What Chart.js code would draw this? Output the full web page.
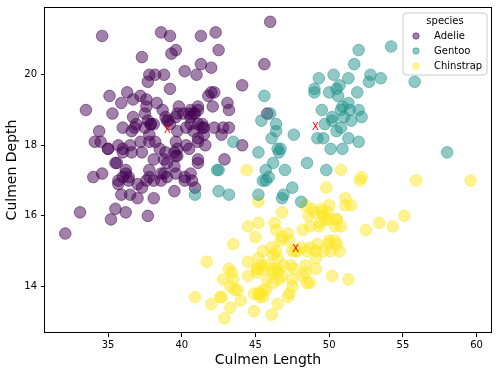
<!DOCTYPE html>
<html><head><meta charset="utf-8">
<script src="https://cdn.jsdelivr.net/npm/chart.js@4"></script>
<style>html,body{margin:0;padding:0;background:#fff}canvas{display:block}</style>
</head><body>
<canvas id="c" width="498" height="375"></canvas>
<script>
// ---- data ----
const seriesLabels = ['Adelie', 'Gentoo', 'Chinstrap'];
const seriesColors = ['rgba(68,1,84,0.5)', 'rgba(33,145,140,0.5)', 'rgba(253,231,37,0.5)'];

// purple series ("Adelie")
const adelieLength = [39.1,39.5,40.3,36.7,39.3,38.9,39.2,34.1,42.0,37.8,37.8,41.1,38.6,34.6,36.6,38.7,42.5,34.4,46.0,37.8,37.7,35.9,38.2,38.8,35.3,40.6,40.5,37.9,40.5,39.5,37.2,39.5,40.9,36.4,39.2,38.8,42.2,37.6,39.8,36.5,40.8,36.0,44.1,37.0,39.6,41.1,37.5,36.0,42.3,39.6,40.1,35.0,42.0,34.5,41.4,39.0,40.6,36.5,37.6,35.7,41.3,37.6,41.1,36.4,41.6,35.5,41.1,35.9,41.8,33.5,39.7,39.6,45.8,35.5,42.8,40.9,37.2,36.2,42.1,34.6,42.9,36.7,35.1,37.3,41.3,36.3,36.9,38.3,38.9,35.7,41.1,34.0,39.6,36.2,40.8,38.1,40.3,33.1,43.2,35.0,41.0,37.7,37.8,37.9,39.7,38.6,38.2,38.1,43.2,38.1,45.6,39.7,42.2,39.6,42.7,38.6,37.3,35.7,41.1,36.2,37.7,40.2,41.4,35.2,40.6,38.8,41.5,39.0,44.1,38.5,43.1,36.8,37.5,38.1,41.1,35.6,40.2,37.0,39.7,40.2,40.6,32.1,40.7,37.3,39.0,39.2,36.6,36.0,37.8,36.0,41.5];
const adelieDepth = [18.7,17.4,18.0,19.3,20.6,17.8,19.6,18.1,20.2,17.1,17.3,17.6,21.2,21.1,17.8,19.0,20.7,18.4,21.5,18.3,18.7,19.2,18.1,17.2,18.9,18.6,17.9,18.6,18.9,16.7,18.1,17.8,18.9,17.0,21.1,20.0,18.5,19.3,19.1,18.0,18.4,18.5,19.7,16.9,18.8,19.0,18.9,17.9,21.2,17.7,18.9,17.9,19.5,18.1,18.6,17.5,18.8,16.6,19.1,16.9,21.1,17.0,18.2,17.1,18.0,16.2,19.1,16.6,19.4,19.0,18.4,17.2,18.9,17.5,18.5,16.8,19.4,16.1,19.1,17.2,17.6,18.8,19.4,17.8,20.3,19.5,18.6,19.2,18.8,18.0,18.1,17.1,18.1,17.3,18.9,18.6,18.5,16.1,18.5,17.9,20.0,16.0,20.0,18.6,18.9,17.2,20.0,17.0,19.0,16.5,20.3,17.7,19.5,20.7,18.3,17.0,20.5,17.0,18.6,17.2,19.8,17.0,18.5,15.9,19.0,17.6,18.3,17.1,18.0,17.9,19.2,18.5,18.5,17.6,17.5,17.5,20.1,16.5,17.9,17.1,17.2,15.5,17.0,16.8,18.7,18.6,18.4,17.8,18.1,17.1,18.5];

// teal series ("Gentoo")
const gentooLength = [46.5,50.0,51.3,45.4,52.7,45.2,46.1,51.3,46.0,51.3,46.6,51.7,47.0,52.0,45.9,50.5,50.3,58.0,46.4,49.2,42.4,48.5,43.2,50.6,46.7,52.0,50.5,49.5,46.4,52.8,40.9,54.2,42.5,51.0,49.7,47.5,47.6,52.0,46.9,53.5,49.0,46.2,50.9,45.5,50.9,50.8,50.1,49.0,51.5,49.8,48.1,51.4,45.7,50.7,42.5,52.2,45.2,49.3,50.2,45.6,51.9,46.8,45.7,55.8,43.5,49.6,50.8,50.2];
const gentooDepth = [17.9,19.5,19.2,18.7,19.8,17.8,18.2,18.2,18.9,19.9,17.8,20.3,17.3,18.1,17.1,19.6,20.0,17.8,18.6,18.2,17.3,17.5,16.6,19.4,17.9,19.0,18.4,19.0,18.4,20.0,16.6,20.8,16.7,18.8,18.6,16.8,18.3,20.7,16.6,19.9,19.5,17.5,19.1,17.0,17.9,18.5,17.9,19.6,18.7,17.3,16.4,19.0,17.3,19.7,17.3,18.8,16.6,19.9,18.8,19.4,19.5,16.5,17.0,19.8,18.1,18.2,19.0,18.7];

// yellow series ("Chinstrap")
const chinstrapLength = [46.1,50.0,48.7,50.0,47.6,46.5,45.4,46.7,43.3,46.8,40.9,49.0,45.5,48.4,45.8,49.3,42.0,49.2,46.2,48.7,50.2,45.1,46.5,46.3,42.9,46.1,44.5,47.8,48.2,50.0,47.3,42.8,45.1,59.6,49.1,48.4,42.6,44.4,44.0,48.7,42.7,49.6,45.3,49.6,50.5,43.6,45.5,50.5,44.9,45.2,46.6,48.5,45.1,50.1,46.5,45.0,43.8,45.5,43.2,50.4,45.3,46.2,45.7,54.3,45.8,49.8,46.2,49.5,43.5,50.7,47.7,46.4,48.2,46.5,46.4,48.6,47.5,51.1,45.2,45.2,49.1,52.5,47.4,50.0,44.9,50.8,43.4,51.3,47.5,52.1,47.5,52.2,45.5,49.5,44.5,50.8,49.4,46.9,48.4,51.1,48.5,55.9,47.2,49.1,47.3,46.8,41.7,53.4,43.3,48.1,50.5,49.8,43.5,51.5,46.2,55.1,44.5,48.8,47.2,46.8,50.4,45.2,49.9];
const chinstrapDepth = [13.2,16.3,14.1,15.2,14.5,13.5,14.6,15.3,13.4,15.4,13.7,16.1,13.7,14.6,14.6,15.7,13.5,15.2,14.5,15.1,14.3,14.5,14.5,15.8,13.1,15.1,14.3,15.0,14.3,15.3,15.3,14.2,14.5,17.0,14.8,16.3,13.7,17.3,13.6,15.7,13.7,16.0,13.7,15.0,15.9,13.9,13.9,15.9,13.3,15.8,14.2,14.1,14.4,15.0,14.4,15.4,13.9,15.0,14.5,15.3,13.8,14.9,13.9,15.7,14.2,16.8,14.4,16.2,14.2,15.0,15.0,15.6,15.6,14.8,15.0,16.0,14.2,16.3,13.8,16.4,14.5,15.6,14.6,15.9,13.8,17.3,14.4,14.2,14.0,17.0,15.0,17.1,14.5,16.1,14.7,15.7,15.8,14.6,14.4,16.5,15.0,17.0,15.5,15.0,13.8,16.1,14.7,15.8,14.0,15.1,15.2,15.9,15.2,16.3,14.1,16.0,15.7,16.2,13.7,14.3,15.7,14.8,16.1];

// red "X" markers (one per group)
const centroidLength = [38.79, 48.83, 47.50];
const centroidDepth = [18.35, 18.42, 14.98];

const xTicks = [35, 40, 45, 50, 55, 60];
const yTicks = [14, 16, 18, 20];
const xTitle = 'Culmen Length';
const yTitle = 'Culmen Depth';
const legendTitle = 'species';

// ---- chart ----
const FONT = 'DejaVu Sans';
const zip = (xs, ys) => xs.map((x, i) => ({x, y: ys[i]}));

function ds(label, xs, ys, color, order) {
  return {label, data: zip(xs, ys), backgroundColor: color, borderColor: color,
    borderWidth: 1, pointRadius: 5.8, pointHoverRadius: 5.8, order};
}

const framePlugin = {
  id: 'frame',
  afterDraw(chart) {
    const {ctx, chartArea: a, scales} = chart;
    ctx.save();
    ctx.strokeStyle = '#000';
    ctx.lineWidth = 1;
    ctx.strokeRect(Math.round(a.left) - 0.5, Math.round(a.top) + 0.5,
      Math.round(a.right) - Math.round(a.left) + 1, Math.round(a.bottom) - Math.round(a.top) - 1);
    // red X markers
    ctx.fillStyle = 'red';
    ctx.font = '10px "' + FONT + '"';
    ctx.textAlign = 'left';
    ctx.textBaseline = 'alphabetic';
    centroidLength.forEach((v, i) => {
      ctx.fillText('X', scales.x.getPixelForValue(v), scales.y.getPixelForValue(centroidDepth[i]));
    });
    // legend
    const bx = 403, by = 13, bw = 84, bh = 62, r = 3;
    ctx.beginPath();
    ctx.moveTo(bx + r, by);
    ctx.arcTo(bx + bw, by, bx + bw, by + bh, r);
    ctx.arcTo(bx + bw, by + bh, bx, by + bh, r);
    ctx.arcTo(bx, by + bh, bx, by, r);
    ctx.arcTo(bx, by, bx + bw, by, r);
    ctx.closePath();
    ctx.fillStyle = 'rgba(255,255,255,0.8)';
    ctx.fill();
    ctx.strokeStyle = '#cccccc';
    ctx.stroke();
    ctx.fillStyle = '#000';
    ctx.textBaseline = 'middle';
    ctx.textAlign = 'center';
    ctx.fillText(legendTitle, bx + bw / 2, 21);
    ctx.textAlign = 'left';
    seriesLabels.forEach((lab, i) => {
      const y = 36 + i * 15;
      ctx.beginPath();
      ctx.arc(416, y, 3.2, 0, Math.PI * 2);
      ctx.fillStyle = seriesColors[i];
      ctx.strokeStyle = seriesColors[i];
      ctx.fill(); ctx.stroke();
      ctx.fillStyle = '#000';
      ctx.fillText(lab, 434, y);
    });
    ctx.restore();
  }
};

new Chart(document.getElementById('c'), {
  type: 'scatter',
  data: {
    datasets: [
      ds(seriesLabels[0], adelieLength, adelieDepth, seriesColors[0], 3),
      ds(seriesLabels[1], gentooLength, gentooDepth, seriesColors[1], 1),
      ds(seriesLabels[2], chinstrapLength, chinstrapDepth, seriesColors[2], 2)
    ]
  },
  options: {
    responsive: false,
    animation: false,
    devicePixelRatio: 1,
    events: [],
    layout: {padding: {left: 0, top: 7, right: 7, bottom: 0}},
    plugins: {legend: {display: false}, tooltip: {enabled: false}},
    scales: {
      x: {
        type: 'linear', min: 30.725, max: 60.975,
        afterBuildTicks: s => { s.ticks = xTicks.map(v => ({value: v})); },
        afterFit: s => { s.height = 42; s.paddingLeft = 0; s.paddingRight = 0; },
        ticks: {font: {family: FONT, size: 10}, color: '#000', padding: 2, maxRotation: 0},
        grid: {drawOnChartArea: false, drawTicks: true, tickLength: 4, color: '#000'},
        border: {display: false},
        title: {display: true, text: xTitle, color: '#000', font: {family: FONT, size: 14}, padding: {top: 0, bottom: 6}}
      },
      y: {
        type: 'linear', min: 12.68, max: 21.92,
        afterBuildTicks: s => { s.ticks = yTicks.map(v => ({value: v})); },
        afterFit: s => { s.width = 45; s.paddingTop = 0; s.paddingBottom = 0; },
        ticks: {font: {family: FONT, size: 10}, color: '#000', padding: 4},
        grid: {drawOnChartArea: false, drawTicks: true, tickLength: 4, color: '#000'},
        border: {display: false},
        title: {display: true, text: yTitle, color: '#000', font: {family: FONT, size: 14}, padding: {top: 4, bottom: 0}}
      }
    }
  },
  plugins: [framePlugin]
});
</script>
</body></html>
